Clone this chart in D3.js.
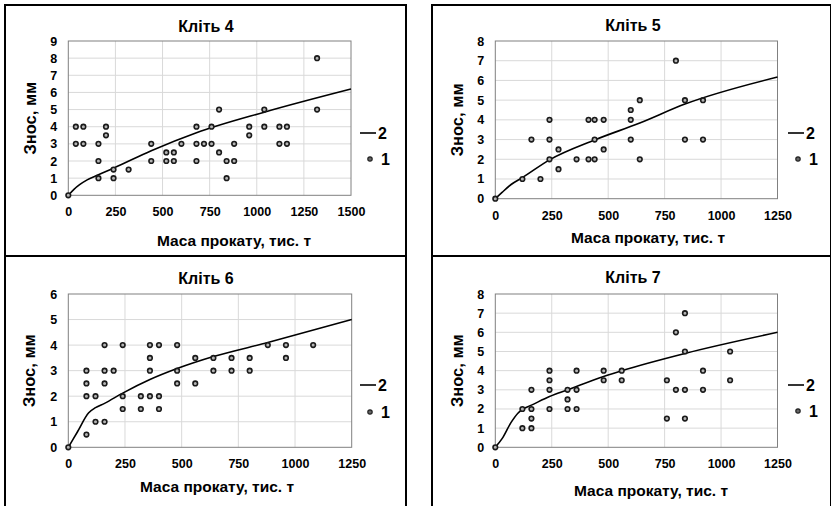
<!DOCTYPE html>
<html>
<head>
<meta charset="utf-8">
<script src="https://cdn.jsdelivr.net/npm/d3@7"></script>
<style>
  body { margin: 0; background: #fff; }
  text { font-family: "Liberation Sans", Arial, sans-serif; font-weight: bold; fill: #000; }
</style>
</head>
<body>
<div id="chart"></div>
<script>
"use strict";

// ---- data ----
var titles = ["Кліть 4", "Кліть 5", "Кліть 6", "Кліть 7"];
var xTitle = "Маса прокату, тис. т";
var yTitle = "Знос, мм";
var legendNames = ["2", "1"];

var xTicks4 = [0, 250, 500, 750, 1000, 1250, 1500];
var xTicks = [0, 250, 500, 750, 1000, 1250];
var yMax = [9, 8, 6, 8];

// Кліть 4 measured points
var k4X = [0, 40, 40, 80, 80, 160, 160, 160, 200, 200, 240, 240, 320, 440, 440, 520, 520, 560, 560, 600,
           680, 680, 680, 720, 760, 760, 800, 800, 840, 840, 880, 880, 960, 960, 1040, 1040, 1120, 1120, 1160, 1160, 1320, 1320];
var k4Y = [0, 4, 3, 4, 3, 3, 2, 1, 4, 3.5, 1.5, 1, 1.5, 3, 2, 2.5, 2, 2.5, 2, 3,
           4, 3, 2, 3, 4, 3, 5, 2.5, 2, 1, 3, 2, 4, 3.5, 5, 4, 4, 3, 4, 3, 8, 5];
// Кліть 4 curve
var k4CurveX = [0, 30, 60, 100, 160, 240, 440, 680, 1040, 1500];
var k4CurveY = [0, 0.35, 0.62, 0.9, 1.2, 1.58, 2.6, 3.65, 4.85, 6.2];

// Кліть 5
var k5X = [0, 120, 160, 200, 240, 240, 240, 280, 280, 360, 413, 413, 440, 440, 440, 480, 480,
           600, 600, 600, 640, 640, 800, 840, 840, 920, 920];
var k5Y = [0, 1, 3, 1, 4, 3, 2, 2.5, 1.5, 2, 4, 2, 4, 3, 2, 4, 2.5,
           4.5, 4, 3, 5, 2, 7, 5, 3, 5, 3];
var k5CurveX = [0, 30, 70, 120, 240, 440, 640, 840, 1250];
var k5CurveY = [0, 0.32, 0.72, 1.07, 1.97, 2.98, 3.84, 4.8, 6.17];

// Кліть 6
var k6X = [0, 80, 80, 80, 80, 120, 120, 160, 160, 160, 160, 200, 240, 240, 240, 320, 320,
           360, 360, 360, 360, 400, 400, 400, 480, 480, 480, 560, 560, 640, 640, 720, 720, 800, 800, 880, 960, 960, 1080];
var k6Y = [0, 0.5, 2, 2.5, 3, 2, 1, 1, 2.5, 3, 4, 3, 4, 2, 1.5, 2, 1.5,
           4, 3.5, 3, 2, 4, 2, 1.5, 4, 3, 2.5, 3.5, 2.5, 3.5, 3, 3.5, 3, 3.5, 3, 4, 4, 3.5, 4];
var k6CurveX = [0, 40, 90, 120, 160, 240, 360, 480, 640, 880, 1250];
var k6CurveY = [0, 0.6, 1.35, 1.55, 1.72, 2.12, 2.65, 3.08, 3.55, 4.1, 5.0];

// Кліть 7
var k7X = [0, 120, 120, 160, 160, 160, 160, 240, 240, 240, 240, 320, 320, 320, 360, 360, 360,
           480, 480, 560, 560, 760, 760, 800, 800, 840, 840, 840, 840, 920, 920, 1040, 1040];
var k7Y = [0, 1, 2, 1, 1.5, 2, 3, 4, 3.5, 3, 2, 3, 2.5, 2, 4, 3, 2,
           4, 3.5, 4, 3.5, 3.5, 1.5, 6, 3, 7, 5, 3, 1.5, 4, 3, 5, 3.5];
var k7CurveX = [0, 30, 70, 100, 120, 160, 240, 320, 480, 560, 840, 1250];
var k7CurveY = [0, 0.45, 1.3, 1.78, 1.98, 2.2, 2.65, 3.0, 3.7, 4.0, 4.9, 6.0];

// ---- layout ----
var W = 831, H = 506;
var panels = [
  { frame: [5, 5, 406, 256],   plot: { l: 68.3, r: 351, t: 41, b: 195.3 },  ticksX: xTicks4, xMax: 1500,
    titleXY: [206, 26], yTitleX: 30, xTitleXY: [234, 240], legX: 360, leg2Y: 133, leg1Y: 159,
    px: k4X, py: k4Y, cx: k4CurveX, cy: k4CurveY },
  { frame: [432, 5, 831, 256], plot: { l: 495.3, r: 777.5, t: 41, b: 198.7 }, ticksX: xTicks, xMax: 1250,
    titleXY: [633, 25], yTitleX: 457, xTitleXY: [648, 237], legX: 788, leg2Y: 133, leg1Y: 159,
    px: k5X, py: k5Y, cx: k5CurveX, cy: k5CurveY },
  { frame: [5, 256, 406, 510], plot: { l: 68.3, r: 351.7, t: 294, b: 447.3 }, ticksX: xTicks, xMax: 1250,
    titleXY: [206, 278], yTitleX: 29, xTitleXY: [217, 486], legX: 360, leg2Y: 385, leg1Y: 412,
    px: k6X, py: k6Y, cx: k6CurveX, cy: k6CurveY },
  { frame: [432, 256, 831, 510], plot: { l: 495.3, r: 777.5, t: 294, b: 447.3 }, ticksX: xTicks, xMax: 1250,
    titleXY: [633, 277], yTitleX: 457, xTitleXY: [651, 490], legX: 788, leg2Y: 385, leg1Y: 411,
    px: k7X, py: k7Y, cx: k7CurveX, cy: k7CurveY }
];

var svg = d3.select("#chart").append("svg")
  .attr("width", W).attr("height", H);

panels.forEach(function(p, i) {
  var g = svg.append("g");
  var pl = p.plot;

  var x = d3.scaleLinear().domain([0, p.xMax]).range([pl.l, pl.r]);
  var y = d3.scaleLinear().domain([0, yMax[i]]).range([pl.b, pl.t]);
  var yTicks = d3.range(0, yMax[i] + 1);

  // gridlines
  g.append("g").selectAll("line").data(p.ticksX.slice(1, -1)).join("line")
    .attr("x1", d => x(d)).attr("x2", d => x(d))
    .attr("y1", pl.t).attr("y2", pl.b)
    .attr("stroke", "#d9d9d9").attr("stroke-width", 1);
  g.append("g").selectAll("line").data(yTicks.slice(1, -1)).join("line")
    .attr("x1", pl.l).attr("x2", pl.r)
    .attr("y1", d => y(d)).attr("y2", d => y(d))
    .attr("stroke", "#d9d9d9").attr("stroke-width", 1);

  // plot border
  g.append("rect")
    .attr("x", pl.l).attr("y", pl.t)
    .attr("width", pl.r - pl.l).attr("height", pl.b - pl.t)
    .attr("fill", "none").attr("stroke", "#808080").attr("stroke-width", 1);

  // axes (labels only)
  var xAxis = d3.axisBottom(x).tickValues(p.ticksX).tickFormat(d3.format("d")).tickSize(0).tickPadding(12);
  var yAxis = d3.axisLeft(y).tickValues(yTicks).tickFormat(d3.format("d")).tickSize(0).tickPadding(11);
  var gx = g.append("g").attr("transform", "translate(0," + pl.b + ")").call(xAxis);
  var gy = g.append("g").attr("transform", "translate(" + pl.l + ",0)").call(yAxis);
  [gx, gy].forEach(function(a) {
    a.select(".domain").remove();
    a.selectAll("text").style("font-size", "12.5px")
      .style("font-family", "'Liberation Sans', Arial, sans-serif").style("font-weight", "bold").attr("fill", "#000");
  });

  // curve
  var curvePts = p.cx.map((v, k) => [v, p.cy[k]]);
  var line = d3.line().x(d => x(d[0])).y(d => y(d[1])).curve(d3.curveMonotoneX);
  g.append("path").datum(curvePts)
    .attr("d", line).attr("fill", "none")
    .attr("stroke", "#000").attr("stroke-width", 1.6);

  // points
  var pts = p.px.map((v, k) => [v, p.py[k]]);
  g.append("g").selectAll("circle").data(pts).join("circle")
    .attr("cx", d => x(d[0])).attr("cy", d => y(d[1]))
    .attr("r", 2.3)
    .attr("fill", "#b5b5b5").attr("stroke", "#1a1a1a").attr("stroke-width", 1.6);

  // titles
  g.append("text").attr("x", p.titleXY[0]).attr("y", p.titleXY[1])
    .attr("text-anchor", "middle").attr("dominant-baseline", "central")
    .style("font-size", "16px").text(titles[i]);
  g.append("text").attr("x", p.xTitleXY[0]).attr("y", p.xTitleXY[1])
    .attr("text-anchor", "middle").attr("dominant-baseline", "central")
    .style("font-size", "15.5px").text(xTitle);
  g.append("text")
    .attr("transform", "translate(" + p.yTitleX + "," + ((pl.t + pl.b) / 2) + ") rotate(-90)")
    .attr("text-anchor", "middle").attr("dominant-baseline", "central")
    .style("font-size", "16.5px").text(yTitle);

  // legend
  g.append("line")
    .attr("x1", p.legX).attr("x2", p.legX + 16)
    .attr("y1", p.leg2Y).attr("y2", p.leg2Y)
    .attr("stroke", "#000").attr("stroke-width", 1.6);
  g.append("text").attr("x", p.legX + 18).attr("y", p.leg2Y)
    .attr("dominant-baseline", "central").style("font-size", "16px").text(legendNames[0]);
  g.append("circle").attr("cx", p.legX + 10).attr("cy", p.leg1Y).attr("r", 2.2)
    .attr("fill", "#666").attr("stroke", "#222").attr("stroke-width", 1.2);
  g.append("text").attr("x", p.legX + 21).attr("y", p.leg1Y)
    .attr("dominant-baseline", "central").style("font-size", "16px").text(legendNames[1]);

  // outer frame
  var f = p.frame;
  g.append("rect")
    .attr("x", f[0]).attr("y", f[1])
    .attr("width", f[2] - f[0]).attr("height", f[3] - f[1])
    .attr("fill", "none").attr("stroke", "#000").attr("stroke-width", 2);
});
</script>
</body>
</html>
